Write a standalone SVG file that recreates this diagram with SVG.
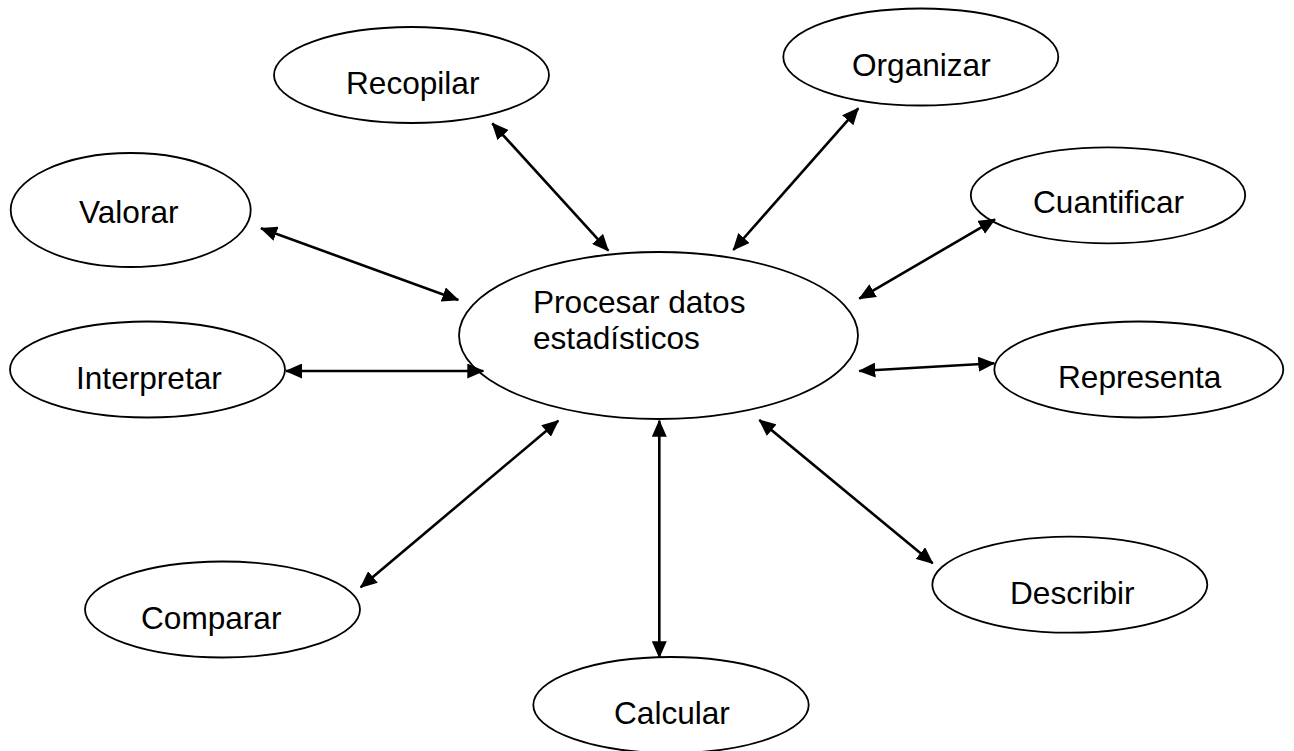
<svg xmlns="http://www.w3.org/2000/svg" width="1294" height="751" viewBox="0 0 1294 751">
<style>
.n{fill:#fff;stroke:#000;stroke-width:1.8}
.t{font-family:"Liberation Sans",Arial,sans-serif;font-size:31.6px;fill:#000}
.c{stroke:#000;stroke-width:2.6;fill:none;marker-start:url(#ah);marker-end:url(#ah)}
</style>
<defs>
<marker id="ah" markerUnits="userSpaceOnUse" markerWidth="17" markerHeight="15" refX="16" refY="7.5" orient="auto-start-reverse" viewBox="0 0 17 15">
<path d="M0,0 L17,7.5 L0,15 z" fill="#000"/>
</marker>
</defs>
<rect width="1294" height="751" fill="#fff"/>
<g id="center"><ellipse class="n" cx="658.5" cy="335.5" rx="199.5" ry="83.5"/><text class="t" x="533" y="313">Procesar datos</text><text class="t" x="533" y="349">estadísticos</text></g>
<g id="recopilar"><ellipse class="n" cx="411.5" cy="75" rx="137.5" ry="48"/><text class="t" x="346" y="94">Recopilar</text></g>
<g id="organizar"><ellipse class="n" cx="920.8" cy="57" rx="137.5" ry="48.5"/><text class="t" x="852" y="76">Organizar</text></g>
<g id="valorar"><ellipse class="n" cx="130.7" cy="210" rx="120" ry="57"/><text class="t" x="79" y="223">Valorar</text></g>
<g id="cuantificar"><ellipse class="n" cx="1108" cy="195.3" rx="137.2" ry="48"/><text class="t" x="1033" y="213">Cuantificar</text></g>
<g id="interpretar"><ellipse class="n" cx="147.5" cy="369.5" rx="137.5" ry="48"/><text class="t" x="76" y="389">Interpretar</text></g>
<g id="representa"><ellipse class="n" cx="1138.8" cy="369.5" rx="144.5" ry="48"/><text class="t" x="1058" y="388">Representa</text></g>
<g id="comparar"><ellipse class="n" cx="222.5" cy="609.5" rx="137.5" ry="48"/><text class="t" x="141" y="629">Comparar</text></g>
<g id="describir"><ellipse class="n" cx="1069.8" cy="584.7" rx="137.5" ry="48"/><text class="t" x="1010" y="604">Describir</text></g>
<g id="calcular"><ellipse class="n" cx="671" cy="705" rx="137.7" ry="48"/><text class="t" x="614" y="724">Calcular</text></g>
<g id="connectors">
<line class="c" x1="608.3" y1="250.7" x2="492.3" y2="123.3"/>
<line class="c" x1="733.3" y1="250" x2="858.3" y2="108.3"/>
<line class="c" x1="458.3" y1="300" x2="261" y2="228.3"/>
<line class="c" x1="859.3" y1="298.7" x2="995" y2="219.3"/>
<line class="c" x1="483.3" y1="371" x2="286" y2="371"/>
<line class="c" x1="859.3" y1="371" x2="994.3" y2="363.3"/>
<line class="c" x1="558.3" y1="420.7" x2="360.7" y2="587.3"/>
<line class="c" x1="659.3" y1="420.7" x2="659.3" y2="657.3"/>
<line class="c" x1="759.3" y1="420" x2="932.7" y2="563.3"/>
</g>
</svg>
